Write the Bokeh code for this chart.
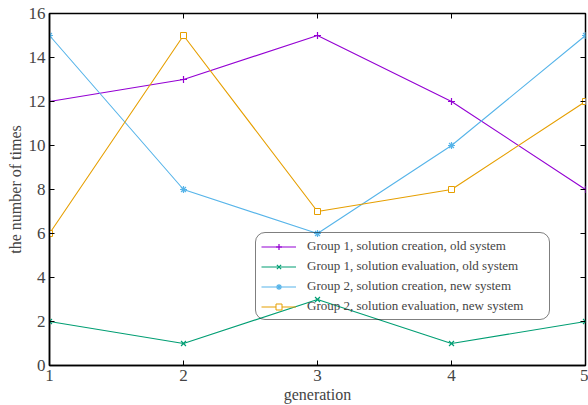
from bokeh.plotting import figure
from bokeh.models import Range1d, LinearAxis, Legend, LegendItem, FixedTicker
from bokeh.embed import file_html
from bokeh.resources import INLINE

generation = [1, 2, 3, 4, 5]
g1_creation_old = [12, 13, 15, 12, 8]
g1_evaluation_old = [2, 1, 3, 1, 2]
g2_creation_new = [15, 8, 6, 10, 15]
g2_evaluation_new = [6, 15, 7, 8, 12]
labels = [
    "Group 1, solution creation, old system",
    "Group 1, solution evaluation, old system",
    "Group 2, solution creation, new system",
    "Group 2, solution evaluation, new system",
]
x_ticks = [1, 2, 3, 4, 5]
y_ticks = [0, 2, 4, 6, 8, 10, 12, 14, 16]

FONT = "Liberation Serif"

p = figure(width=588, height=405, output_backend="svg", toolbar_location=None,
           x_range=Range1d(1, 5), y_range=Range1d(0, 16),
           min_border_left=49, min_border_right=3, min_border_top=13, min_border_bottom=40)
p.grid.visible = False
p.outline_line_color = "black"
p.outline_line_width = 1.5

for ax in (p.xaxis[0], p.yaxis[0]):
    ax.major_tick_in = 5
    ax.major_tick_out = 0
    ax.minor_tick_line_color = None
    ax.axis_line_width = 1.5
    ax.major_tick_line_width = 1
    ax.major_label_text_font = FONT
    ax.major_label_text_font_size = "17px"
    ax.axis_label_text_font = FONT
    ax.axis_label_text_font_size = "16px"
    ax.axis_label_text_font_style = "normal"
    ax.major_label_standoff = 4
p.xaxis[0].ticker = FixedTicker(ticks=x_ticks)
p.yaxis[0].ticker = FixedTicker(ticks=y_ticks)
p.xaxis[0].axis_label = "generation"
p.yaxis[0].axis_label = "the number of times"
p.xaxis[0].axis_label_standoff = 2
p.yaxis[0].axis_label_standoff = 2

for loc, tk in (("right", y_ticks), ("above", x_ticks)):
    a = LinearAxis(ticker=FixedTicker(ticks=tk), major_tick_in=5, major_tick_out=0,
                   minor_tick_line_color=None,
                   major_label_overrides={t: "" for t in tk},
                   axis_line_color=None)
    p.add_layout(a, loc)

colors = ["#9400D3", "#009E73", "#56B4E9", "#E69F00"]
series = [g1_creation_old, g1_evaluation_old, g2_creation_new, g2_evaluation_new]
markers = ["cross", "x", "asterisk", "square"]
items = []
for ys, c, m, lab in zip(series, colors, markers, labels):
    r1 = p.line(generation, ys, line_color=c, line_width=1.1)
    if m == "square":
        r2 = p.scatter(generation, ys, marker=m, size=6, line_color=c, fill_color="white", line_width=1)
    else:
        r2 = p.scatter(generation, ys, marker=m, size=7, line_color=c, line_width=1.2)
    items.append(LegendItem(label=lab, renderers=[r1, r2]))

legend = Legend(items=items, location=(206, 45), glyph_width=35, glyph_height=15,
                label_text_font=FONT, label_text_font_size="13px",
                label_width=237, label_height=16,
                label_standoff=11, spacing=4, padding=5, margin=0,
                border_line_color="black", border_line_width=1,
                background_fill_alpha=0.0)
try:
    legend.border_radius = 10
except Exception:
    pass
p.add_layout(legend, "center")

open("out.html", "w").write(file_html(p, INLINE))
